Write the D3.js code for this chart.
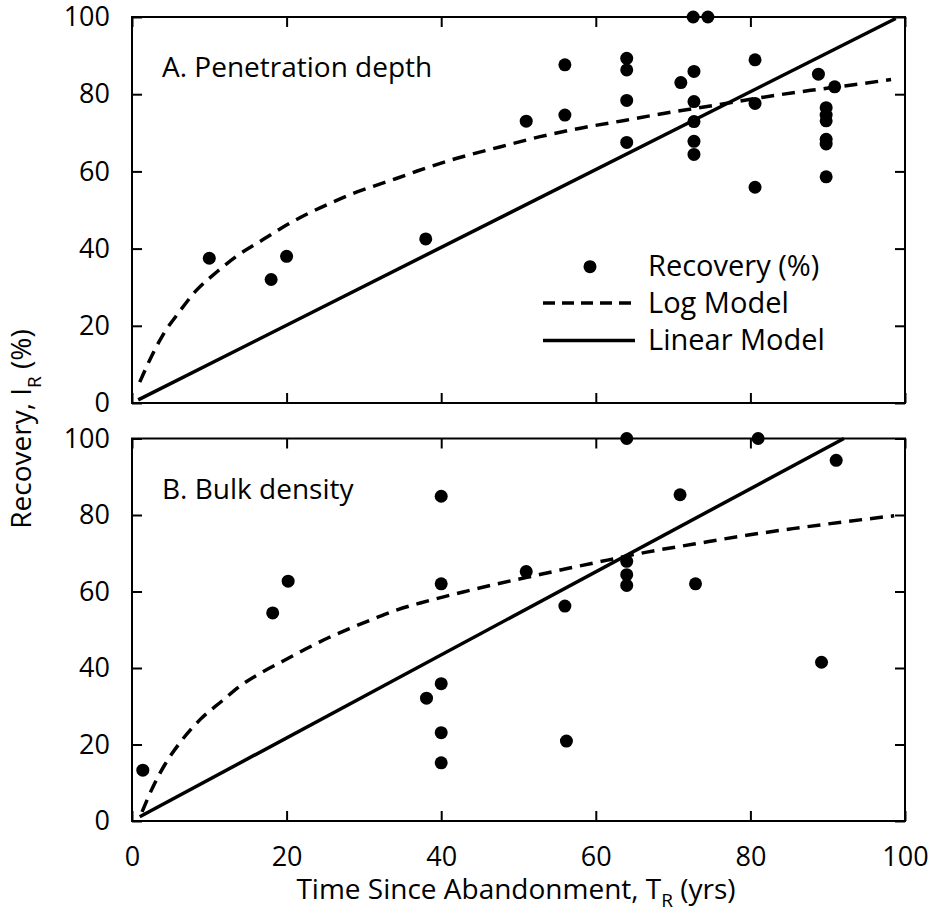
<!DOCTYPE html>
<html>
<head>
<meta charset="utf-8">
<script src="https://cdn.jsdelivr.net/npm/d3@7"></script>
<style>
  body { margin: 0; background: #fff; }
  text { font-family: "Open Sans", sans-serif; fill: #000; }
</style>
</head>
<body>
<div class="chart"></div>
<script>
const width = 945;
const height = 915;

// panel A: penetration depth
const aX = [10, 18, 20, 38, 51, 56, 56, 64, 64, 64, 64, 71, 72.6, 74.5, 72.7, 72.7, 72.7, 72.7, 72.7, 80.6, 80.6, 80.6, 88.8, 90.9, 89.8, 89.8, 89.8, 89.8, 89.8, 89.8];
const aY = [37.5, 32, 38, 42.5, 73, 87.6, 74.6, 89.3, 86.3, 78.4, 67.5, 83, 100, 100, 85.9, 78.1, 72.9, 67.8, 64.4, 88.9, 77.6, 55.9, 85.2, 81.9, 76.5, 74.6, 73.1, 68.3, 67.1, 58.6];
const aLogX = [1.0, 2.55, 4.05, 6.0, 8.2, 11.0, 13.8, 17.0, 19.4, 22.4, 25.6, 28.5, 31.3, 34.1, 36.9, 41.2, 47.7, 52.8, 58, 63.7, 69.3, 75.3, 81.3, 87.8, 92.1, 98.2];
const aLogY = [5.4, 12.2, 17.8, 23.3, 28.9, 34.0, 38.4, 42.4, 45.4, 48.7, 51.7, 54.2, 56.2, 58.1, 60.1, 62.9, 66.4, 69.0, 71.2, 73.2, 75.2, 77.1, 79.1, 81.0, 82.1, 83.8];
const aLinX = [0.8, 98.8];
const aLinY = [0.8, 99.6];

// panel B: bulk density
const bX = [1.4, 18.2, 20.2, 40, 40, 40, 38.1, 40, 40, 51, 56, 56.2, 64, 64, 64, 64, 70.9, 72.9, 81, 89.2, 91.1];
const bY = [13.3, 54.4, 62.7, 84.9, 62.0, 35.9, 32.1, 23.1, 15.2, 65.2, 56.2, 20.9, 100, 67.9, 64.4, 61.6, 85.3, 62.0, 100, 41.5, 94.3];
const bLogX = [1.3, 2.8, 4.3, 6.4, 8.8, 11.6, 14.2, 16.9, 19.8, 22.4, 25.4, 28.5, 31.3, 34.3, 37.3, 40.3, 43.3, 46.8, 51.1, 56.3, 61.5, 66.6, 72.7, 79.2, 85.7, 92.1, 98.6];
const bLogY = [2.4, 9.3, 14.9, 21.0, 26.5, 31.3, 35.6, 39.0, 42.1, 44.9, 47.9, 50.6, 52.9, 55.2, 57.0, 58.6, 60.1, 61.8, 63.7, 66.0, 68.2, 70.3, 72.4, 74.6, 76.5, 78.2, 79.8];
const bLinX = [1.0, 92.1];
const bLinY = [1.1, 100];

const ticks = [0, 20, 40, 60, 80, 100];

const svg = d3.select(".chart").append("svg")
  .attr("width", width)
  .attr("height", height);

const xScale = d3.scaleLinear().domain([0, 100]).range([132, 905]);

function panel(top, bottom, px, py, logX, logY, linX, linY, label, labelY, showX) {
  let yScale = d3.scaleLinear().domain([0, 100]).range([bottom, top]);
  let g = svg.append("g");

  let yAxis = d3.axisLeft(yScale).tickValues(ticks).tickSize(-10).tickPadding(22);
  g.append("g").attr("transform", "translate(132,0)").call(yAxis);
  g.append("g").attr("transform", "translate(905,0)")
    .call(d3.axisRight(yScale).tickValues(ticks).tickSize(-10).tickFormat(""));
  g.append("g").attr("transform", "translate(0," + top + ")")
    .call(d3.axisTop(xScale).tickValues(ticks).tickSize(-10).tickFormat(""));
  let xAxis = d3.axisBottom(xScale).tickValues(ticks).tickSize(-10).tickPadding(26);
  if (!showX) xAxis.tickFormat("");
  g.append("g").attr("transform", "translate(0," + bottom + ")").call(xAxis);

  g.selectAll(".domain").remove();
  g.selectAll(".tick line").attr("stroke", "#000").attr("stroke-width", 2);
  g.selectAll(".tick text")
    .style("font-family", "'Open Sans', sans-serif")
    .style("font-size", "27px")
    .attr("fill", "#000");

  g.append("rect")
    .attr("x", 132).attr("y", top)
    .attr("width", 905 - 132).attr("height", bottom - top)
    .attr("fill", "none").attr("stroke", "#000").attr("stroke-width", 2);

  let line = d3.line()
    .x((d) => xScale(d[0]))
    .y((d) => yScale(d[1]));

  g.append("path")
    .datum(d3.zip(logX, logY))
    .attr("d", line.curve(d3.curveMonotoneX))
    .attr("fill", "none")
    .attr("stroke", "#000")
    .attr("stroke-width", 3.5)
    .attr("stroke-dasharray", "13,8");

  g.append("path")
    .datum(d3.zip(linX, linY))
    .attr("d", line.curve(d3.curveLinear))
    .attr("fill", "none")
    .attr("stroke", "#000")
    .attr("stroke-width", 3.5);

  g.append("g")
    .selectAll("circle")
    .data(d3.zip(px, py))
    .enter()
    .append("circle")
    .attr("cx", (d) => xScale(d[0]))
    .attr("cy", (d) => yScale(d[1]))
    .attr("r", 6.5)
    .attr("fill", "#000");

  g.append("text")
    .text(label)
    .attr("x", 162)
    .attr("y", labelY)
    .attr("font-size", 28);
}

panel(17, 403, aX, aY, aLogX, aLogY, aLinX, aLinY, "A. Penetration depth", 77, false);
panel(438.5, 821, bX, bY, bLogX, bLogY, bLinX, bLinY, "B. Bulk density", 499, true);

// legend
const leg = svg.append("g");
leg.append("circle").attr("cx", 590).attr("cy", 266.7).attr("r", 6.5).attr("fill", "#000");
leg.append("line").attr("x1", 543).attr("x2", 635).attr("y1", 303).attr("y2", 303)
  .attr("stroke", "#000").attr("stroke-width", 3.5).attr("stroke-dasharray", "12,7");
leg.append("line").attr("x1", 543).attr("x2", 635).attr("y1", 340.5).attr("y2", 340.5)
  .attr("stroke", "#000").attr("stroke-width", 3.5);
leg.selectAll("text.leg")
  .data(["Recovery (%)", "Log Model", "Linear Model"])
  .enter()
  .append("text")
  .attr("class", "leg")
  .attr("x", 648)
  .attr("y", (d, i) => 276 + i * 37)
  .attr("font-size", 29)
  .text((d) => d);

// x axis title
const xt = svg.append("text")
  .attr("x", 516)
  .attr("y", 899)
  .attr("text-anchor", "middle")
  .attr("font-size", 28);
xt.append("tspan").text("Time Since Abandonment, T");
xt.append("tspan").text("R").attr("font-size", 19).attr("dy", 8);
xt.append("tspan").text(" (yrs)").attr("dy", -8);

// y axis title
const yt = svg.append("text")
  .attr("transform", "translate(31,429) rotate(-90)")
  .attr("text-anchor", "middle")
  .attr("font-size", 28);
yt.append("tspan").text("Recovery, I");
yt.append("tspan").text("R").attr("font-size", 19).attr("dy", 10);
yt.append("tspan").text(" (%)").attr("dy", -10);
</script>
</body>
</html>
